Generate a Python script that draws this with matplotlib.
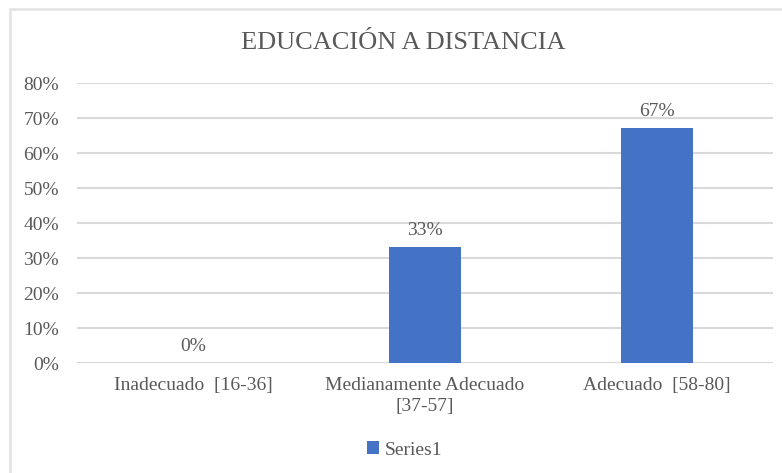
import matplotlib.pyplot as plt
from matplotlib.patches import Rectangle

categories = ["Inadecuado  [16-36]", "Medianamente Adecuado\n[37-57]", "Adecuado  [58-80]"]
values = [0.0, 0.33, 0.67]
labels = ["0%", "33%", "67%"]
yticks = [0, 0.1, 0.2, 0.3, 0.4, 0.5, 0.6, 0.7, 0.8]
series_name = "Series1"

txt = "#595959"
grid = "#D9D9D9"
blue = "#4472C4"

plt.rcParams['font.family'] = ['Liberation Serif', 'DejaVu Serif']

fig = plt.figure(figsize=(7.82, 4.73), dpi=100)
ax = fig.add_axes([77 / 782, 1 - 363 / 473, 696 / 782, 280 / 473])

x = list(range(len(categories)))
bars = ax.bar(x, values, width=0.31, color=blue, label=series_name, zorder=3)

for xi, v, lab in zip(x, values, labels):
    ax.annotate(lab, (xi, v), xytext=(0, 6), textcoords="offset points",
                ha="center", va="bottom", fontsize=14, color=txt)

ax.set_xlim(-0.5, 2.5)
ax.set_ylim(0, 0.8)
ax.set_yticks(yticks)
ax.set_yticklabels([f"{round(t * 100)}%" for t in yticks])
ax.set_xticks(x)
ax.set_xticklabels(categories, linespacing=1.35)
ax.tick_params(axis="y", length=0, pad=13, labelsize=14, labelcolor=txt)
ax.tick_params(axis="x", length=0, pad=10, labelsize=14, labelcolor=txt)
ax.yaxis.grid(True, color=grid, linewidth=1.5, zorder=0)
for s in ax.spines.values():
    s.set_visible(False)

fig.text(403 / 782, 1 - 43 / 473, "EDUCACIÓN A DISTANCIA", ha="center", va="center",
         fontsize=19, color=txt)

leg = fig.legend(handles=[bars], labels=[series_name], loc="center",
                 bbox_to_anchor=(405 / 782, 1 - 450 / 473), frameon=False,
                 fontsize=14, handlelength=0.6, handleheight=0.6, handletextpad=0.3)
for t in leg.get_texts():
    t.set_color(txt)

# chart border: only the top and left edges are visible in the crop
fig.patches.append(Rectangle((10 / 782, -10 / 473), 800 / 782, 474 / 473,
                             transform=fig.transFigure, fill=False,
                             edgecolor="#E3E3E3", linewidth=1.8))

fig.savefig("out.png", dpi=100, facecolor="white")
